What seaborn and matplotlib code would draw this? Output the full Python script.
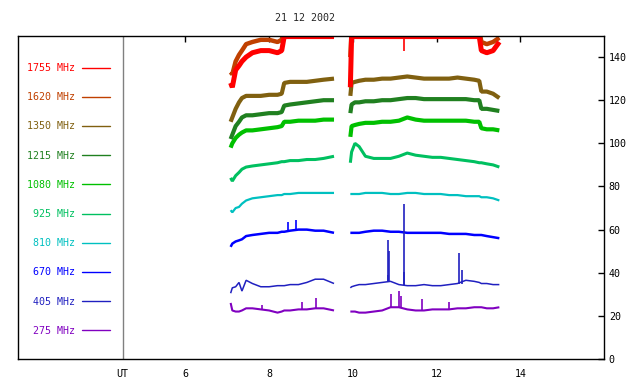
import matplotlib.pyplot as plt
from matplotlib.lines import Line2D
import pandas as pd
import seaborn as sns

# channel labels, low to high frequency
channels = ['275 MHz', '405 MHz', '670 MHz', '810 MHz', '925 MHz',
            '1080 MHz', '1215 MHz', '1350 MHz', '1620 MHz', '1755 MHz']
colors = ['#8000c0', '#2020c0', '#0000ff', '#00c0c0', '#00c060',
          '#00c000', '#208020', '#806010', '#c04000', '#ff0000']

# first observing block (UT hours)
ut1 = [7.08, 7.12, 7.2, 7.28, 7.35, 7.45, 7.6, 7.8, 8.0, 8.2, 8.3, 8.36,
       8.5, 8.7, 8.9, 9.1, 9.3, 9.55]
f275_1 = [26, 22.5, 22, 22, 22.5, 23.5, 23.5, 23, 22.5, 21.5, 22, 22.5,
          22.5, 23, 23, 23.5, 23.5, 22.5]
f405_1 = [30.5, 33, 33.5, 35.5, 31.5, 36.5, 35, 33.5, 33.5, 34, 34, 34,
          34.5, 34.5, 35.5, 37, 37, 35]
f670_1 = [52, 53.5, 54.5, 55, 55.5, 57, 57.5, 58, 58.5, 58.5, 59, 59,
          59.5, 60, 60, 59.5, 59.5, 58.5]
f810_1 = [69, 68, 70, 70.5, 72, 73.5, 74.5, 75, 75.5, 76, 76, 76.5,
          76.5, 77, 77, 77, 77, 77]
f925_1 = [84, 82.5, 85, 86.5, 88, 89, 89.5, 90, 90.5, 91, 91.5, 91.5,
          92, 92, 92.5, 92.5, 93, 94]
f1080_1 = [98, 100, 102.5, 104, 105, 106, 106, 106.5, 107, 107.5, 108, 110,
           110, 110.5, 110.5, 110.5, 111, 111]
f1215_1 = [102, 104, 108, 110, 112, 113, 113, 113.5, 114, 114, 114.5, 117.5,
           118, 118.5, 119, 119.5, 120, 120]
f1350_1 = [110, 112, 116, 119, 121, 122, 122, 122, 122.5, 122.5, 123, 128,
           128.5, 128.5, 128.5, 129, 129.5, 130]
f1620_1 = [133, 132, 138, 141, 143, 146, 147, 148, 148, 147, 148, 153,
           153, 153, 153, 153, 153, 153]
f1755_1 = [128, 126, 134, 136, 138, 140, 142, 143, 143, 142, 143, 149.5,
           149.5, 149.5, 149.5, 149.5, 149.5, 149.5]

# second observing block
ut2 = [9.94, 9.97, 10.05, 10.15, 10.3, 10.5, 10.7, 10.9, 11.1, 11.3, 11.5,
       11.7, 11.9, 12.1, 12.3, 12.5, 12.7, 12.9, 13.02, 13.07, 13.2, 13.35, 13.5]
f275_2 = [22, 22, 22, 21.5, 21.5, 22, 22.5, 24, 24, 23, 22.5, 22.5, 23, 23,
          23, 23.5, 23.5, 24, 24, 24, 23.5, 23.5, 24]
f405_2 = [33, 33.5, 34, 34.5, 34.5, 35, 35.5, 36, 34.5, 34, 34, 34.5, 34, 34,
          34.5, 35, 36.5, 36, 35.5, 35, 35, 34.5, 34.5]
f670_2 = [58.5, 58.5, 58.5, 58.5, 59, 59.5, 59.5, 59, 59, 58.5, 58.5, 58.5,
          58.5, 58.5, 58, 58, 58, 57.5, 57.5, 57.5, 57, 56.5, 56]
f810_2 = [76.5, 76.5, 76.5, 76.5, 77, 77, 77, 76.5, 76.5, 77, 77, 76.5, 76.5,
          76.5, 76, 76, 75.5, 75.5, 75.5, 75, 75, 74.5, 73.5]
f925_2 = [91, 96, 100, 98.5, 94, 93, 93, 93, 94, 95.5, 94.5, 94, 93.5, 93.5,
          93, 92.5, 92, 91.5, 91, 91, 90.5, 90, 89]
f1080_2 = [103, 108, 108.5, 109, 109.5, 109.5, 110, 110, 110.5, 112, 111,
           110.5, 110.5, 110.5, 110.5, 110.5, 110.5, 110, 110, 107, 106.5,
           106.5, 106]
f1215_2 = [114, 118, 119, 119, 119.5, 119.5, 120, 120, 120.5, 121, 121, 120.5,
           120.5, 120.5, 120.5, 120.5, 120.5, 120, 120, 116, 116, 115.5, 115]
f1350_2 = [122, 128, 128.5, 129, 129.5, 129.5, 130, 130, 130.5, 131, 130.5,
           130, 130, 130, 130, 130.5, 130, 129.5, 129, 124, 124, 123, 121]
f1620_2 = [140] + [153] * 18 + [147, 146, 147, 149]
f1755_2 = [126] + [149.5] * 18 + [143, 142, 143, 147]

# short bursts: (channel, UT, base, peak)
spike_ch = ['275 MHz'] * 8 + ['405 MHz'] * 7 + ['670 MHz'] * 2 + ['1755 MHz']
spike_ut = [7.82, 8.78, 9.12, 10.92, 11.11, 11.15, 11.66, 12.29,
            10.83, 10.85, 10.87, 11.21, 11.23, 12.53, 12.6,
            8.46, 8.65, 11.23]
spike_lo = [23, 23, 23.5, 24, 24, 24, 22.5, 23,
            36, 36, 36, 34.5, 34.5, 35, 35,
            59.5, 59.5, 150]
spike_hi = [25, 26.5, 28.4, 30, 31.6, 29, 28, 26.5,
            39, 55, 50, 72, 40.5, 49, 41.4,
            63.5, 64.5, 143]

block1 = [f275_1, f405_1, f670_1, f810_1, f925_1, f1080_1, f1215_1, f1350_1,
          f1620_1, f1755_1]
block2 = [f275_2, f405_2, f670_2, f810_2, f925_2, f1080_2, f1215_2, f1350_2,
          f1620_2, f1755_2]

rows = []
for ch, v1, v2 in zip(channels, block1, block2):
    rows += [(ch, 1, t, v) for t, v in zip(ut1, v1)]
    rows += [(ch, 2, t, v) for t, v in zip(ut2, v2)]
df = pd.DataFrame(rows, columns=['freq', 'block', 'UT', 'flux'])

widths = dict(zip(channels, [1.5, 1.1, 1.8, 1.6, 2.2, 3.0, 3.0, 3.0, 3.2, 3.6]))
palette = dict(zip(channels, colors))

sns.set_style('white')
plt.rcParams['font.family'] = ['DejaVu Sans Mono']

fig = plt.figure(figsize=(6.4, 3.84), dpi=100)
ax = fig.add_axes([18 / 640, 1 - 359 / 384, 586 / 640, 323.5 / 384])

sns.lineplot(data=df, x='UT', y='flux', hue='freq', size='freq',
             hue_order=channels, size_order=channels, palette=palette,
             sizes=widths, units='block', estimator=None, sort=False,
             legend=False, ax=ax, solid_capstyle='butt',
             solid_joinstyle='bevel')
ax.vlines(spike_ut, spike_lo, spike_hi,
          colors=[palette[c] for c in spike_ch], lw=1.2)

ax.axvline(4.5, color='#808080', lw=1)

ax.set_xlim(2, 16)
ax.set_ylim(0, 150)
ax.set_xticks([4.5, 6, 8, 10, 12, 14], ['UT', '6', '8', '10', '12', '14'])
ax.set_yticks(range(0, 141, 20))
ax.yaxis.tick_right()
ax.tick_params(direction='in', length=4, width=1, top=True, right=True,
               left=False, labelsize=7.2, colors='black')
ax.tick_params(axis='x', pad=7)
ax.tick_params(axis='y', pad=3.5)
ut_tick = ax.xaxis.get_major_ticks()[0]
ut_tick.tick1line.set_visible(False)
ut_tick.tick2line.set_visible(False)
ax.set_xlabel('')
ax.set_ylabel('')
for s in ax.spines.values():
    s.set_color('black')
    s.set_linewidth(1)

handles = [Line2D([], [], color=palette[c], lw=1) for c in channels[::-1]]
ax.legend(handles, channels[::-1], loc='upper right', markerfirst=False,
          frameon=False, labelcolor='linecolor', fontsize=7.2,
          handlelength=2.8, handletextpad=0.7, labelspacing=1.92,
          borderpad=0, borderaxespad=0,
          bbox_to_anchor=(110 / 640, 1 - 63 / 384),
          bbox_transform=fig.transFigure)

fig.text(305 / 640, 1 - 18 / 384, '21 12 2002', ha='center', va='center',
         fontsize=7.2)

fig.savefig('out.png', dpi=100)
